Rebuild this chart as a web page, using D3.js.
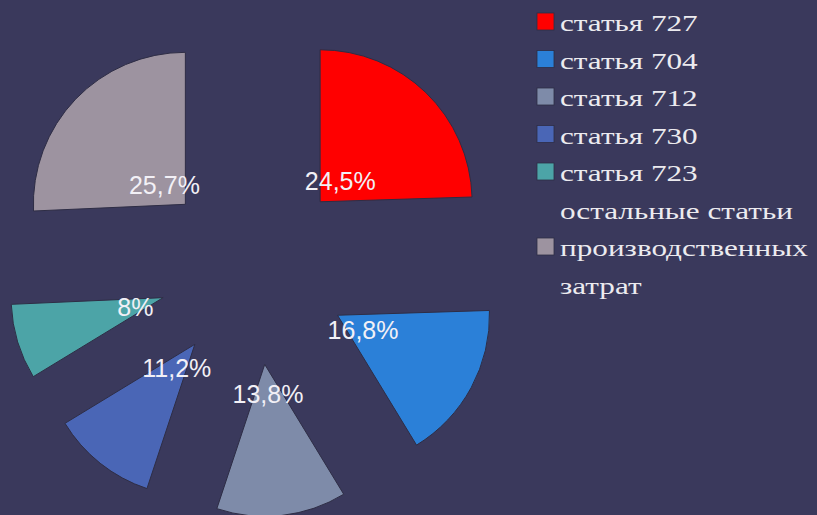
<!DOCTYPE html>
<html>
<head>
<meta charset="utf-8">
<script src="https://cdn.jsdelivr.net/npm/d3@7"></script>
<style>
  html, body { margin: 0; padding: 0; background: #3a395c; }
  svg { display: block; }
</style>
</head>
<body>
<div id="chart"></div>
<script>
// chart data
const categories = ["статья 727", "статья 704", "статья 712", "статья 730", "статья 723", "остальные статьи производственных затрат"];
const values = [24.5, 16.8, 13.8, 11.2, 8, 25.7];
const colors = ["#ff0000", "#2b80d8", "#7e8ba9", "#4a66b6", "#4ca4a7", "#9d93a0"];
// legend text as it wraps in the picture
const legendLines = [["статья 727"], ["статья 704"], ["статья 712"], ["статья 730"], ["статья 723"], ["остальные статьи", "производственных", "затрат"]];

const width = 817, height = 515;
const cx = 254, cy = 270, radius = 152, explode = 95;

const svg = d3.select("#chart")
  .append("svg")
    .attr("width", width)
    .attr("height", height);

svg.append("rect")
  .attr("width", width)
  .attr("height", height)
  .attr("fill", "#3a395c");

const pie = d3.pie()
  .sort(null)
  .value(d => d);

const arc = d3.arc()
  .innerRadius(0)
  .outerRadius(radius);

const slices = pie(values);

// push every slice out along its own bisector
function offset(d, r) {
  const mid = (d.startAngle + d.endAngle) / 2;
  return [r * Math.sin(mid), -r * Math.cos(mid)];
}

const g = svg.append("g")
  .attr("transform", `translate(${cx},${cy})`);

g.selectAll("path")
  .data(slices)
  .join("path")
    .attr("d", arc)
    .attr("transform", d => `translate(${offset(d, explode)})`)
    .attr("fill", (d, i) => colors[i])
    .attr("stroke", "#2e2d45")
    .attr("stroke-width", 1);

const fmt = v => (Number.isInteger(v) ? String(v) : v.toFixed(1).replace(".", ",")) + "%";

g.selectAll("text.pct")
  .data(slices)
  .join("text")
    .attr("class", "pct")
    .attr("x", d => offset(d, explode + 29)[0])
    .attr("y", d => offset(d, explode + 29)[1])
    .attr("dy", "0.38em")
    .attr("text-anchor", "middle")
    .attr("font-family", "'Liberation Sans', Arial, sans-serif")
    .attr("font-size", 25)
    .attr("fill", "#f2f0f6")
    .text(d => fmt(d.data));

// legend
const lineH = 37.5;
const legend = svg.append("g");
let line = 0;
legendLines.forEach((lines, i) => {
  const first = line;
  lines.forEach(t => {
    legend.append("text")
      .attr("transform", `translate(560,${31 + line * lineH}) scale(1.3,1)`)
      .attr("font-family", "'Liberation Serif', 'Times New Roman', serif")
      .attr("font-size", 24)
      .attr("fill", "#ecebef")
      .text(t);
    line++;
  });
  const mid = first + (lines.length - 1) / 2;
  legend.append("rect")
    .attr("x", 537)
    .attr("y", 13 + mid * lineH)
    .attr("width", 17)
    .attr("height", 17)
    .attr("fill", colors[i])
    .attr("stroke", "#2e2d45")
    .attr("stroke-width", 0.8);
});
</script>
</body>
</html>
